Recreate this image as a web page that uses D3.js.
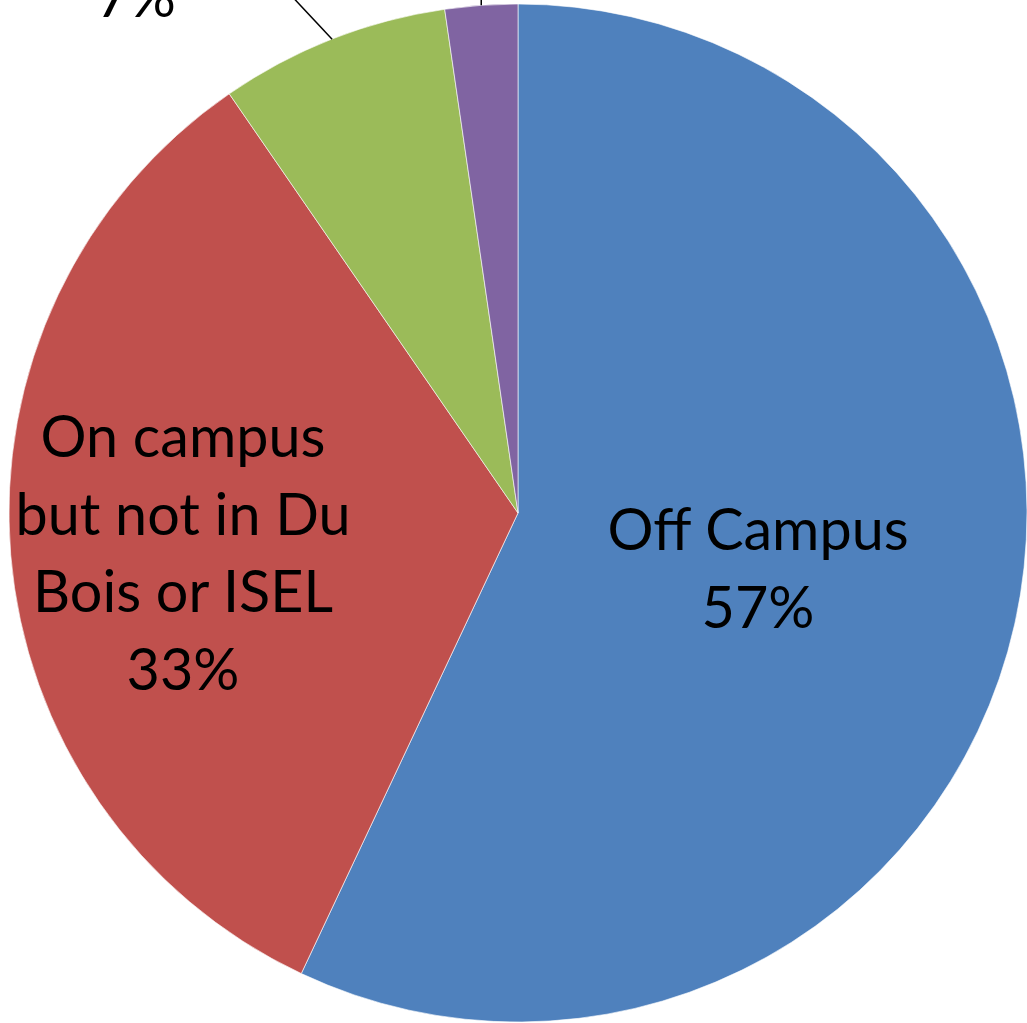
<!DOCTYPE html>
<html>
<head>
<meta charset="utf-8">
<script src="https://cdn.jsdelivr.net/npm/d3@7"></script>
<style>
  html, body { margin: 0; padding: 0; background: #fff; overflow: hidden; }
  svg { display: block; }
</style>
</head>
<body>
<svg class="pie" width="1027" height="1023"></svg>
<script>
//categories and shares (percent), clockwise from 12 o'clock
var categories = ["Off Campus", "On campus but not in Du Bois or ISEL", "Du Bois", "ISEL"];
var shares = [57.0, 33.4, 7.3, 2.3];
var pctLabels = ["57%", "33%", "7%", "2%"];
var colors = ["#4F81BD", "#C0504D", "#9BBB59", "#8064A2"];

//label lines as they wrap in the chart
var labelLines = [
    ["Off Campus", "57%"],
    ["On campus", "but not in Du", "Bois or ISEL", "33%"],
    ["Du Bois", "7%"],
    ["ISEL", "2%"]
];

var w = 1027, h = 1023;
var cx = 518, cy = 513, r = 509;

var svg = d3.select("svg.pie");
var g = svg.append("g").attr("transform", "translate(" + cx + "," + cy + ")");

var pie = d3.pie().sort(null).value(function(d) { return d; });
var arc = d3.arc().innerRadius(0).outerRadius(r);
var arcs = pie(shares);

//draw slices
g.selectAll("path")
    .data(arcs)
    .enter()
    .append("path")
    .attr("d", arc)
    .attr("fill", function(d, i) { return colors[i]; })
    .attr("stroke", "#fff")
    .attr("stroke-opacity", 0.6)
    .attr("stroke-width", 1);

var fontSize = 57.5, lineH = 77.5;

//inside labels - offsets of the first baseline from the centre, tuned to the picture
var insideOffset = [[240, 37], [-335, -56]];

[0, 1].forEach(function(i) {
    var lines = labelLines[i];
    var t = g.append("text")
        .attr("text-anchor", "middle")
        .style("font-family", "Lato, 'Open Sans', sans-serif")
        .style("font-size", fontSize + "px")
        .attr("fill", "#000");
    lines.forEach(function(s, k) {
        t.append("tspan")
            .attr("x", insideOffset[i][0])
            .attr("y", insideOffset[i][1] + k * lineH)
            .text(s);
    });
});

//outside labels with leader lines (mostly off the top of the picture)
var outside = [
    {i: 2, lx: -382, ly: -496, to: [-232, -523]},
    {i: 3, lx: -37, ly: -600, to: [-37, -560]}
];

outside.forEach(function(o) {
    var mid = (arcs[o.i].startAngle + arcs[o.i].endAngle) / 2;
    var edge = [Math.sin(mid) * r, -Math.cos(mid) * r];
    g.append("line")
        .attr("x1", edge[0]).attr("y1", edge[1])
        .attr("x2", o.to[0]).attr("y2", o.to[1])
        .attr("stroke", "#000")
        .attr("stroke-width", 1.5);
    var lines = labelLines[o.i];
    var t = g.append("text")
        .attr("text-anchor", "middle")
        .style("font-family", "Lato, 'Open Sans', sans-serif")
        .style("font-size", fontSize + "px")
        .attr("fill", "#000");
    lines.forEach(function(s, k) {
        t.append("tspan")
            .attr("x", o.lx)
            .attr("y", o.ly - (lines.length - 1 - k) * lineH)
            .text(s);
    });
});
</script>
</body>
</html>
